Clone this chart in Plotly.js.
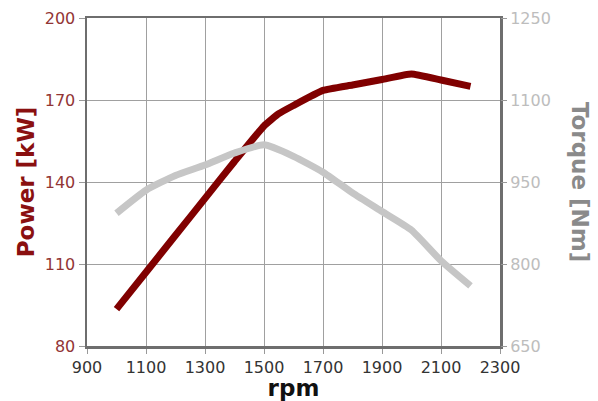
<!DOCTYPE html>
<html>
<head>
<meta charset="utf-8">
<script src="https://cdn.plot.ly/plotly-3.0.1.min.js"></script>
<style>
html,body{margin:0;padding:0;background:#fff;}
#chart{width:598px;height:401px;}
</style>
</head>
<body>
<div id="chart"></div>
<script>
// Data
const powerRpm = [1000, 1100, 1200, 1300, 1400, 1500, 1550, 1600, 1700, 1800, 1900, 2000, 2100, 2200];
const powerKw  = [93.5, 107, 120.5, 134, 147.5, 160.5, 165, 168, 173.5, 175.5, 177.5, 179.5, 177.3, 175];
const torqueRpm = [1000, 1100, 1200, 1300, 1400, 1500, 1600, 1700, 1800, 1900, 2000, 2100, 2200];
const torqueNm  = [893, 935, 962, 981, 1003, 1018, 997, 968, 930, 896, 862, 806, 760];
const xTicks = [900, 1100, 1300, 1500, 1700, 1900, 2100, 2300];
const powerTicks = [80, 110, 140, 170, 200];
const torqueTicks = [650, 800, 950, 1100, 1250];

const FONT = 'DejaVu Sans, Verdana, sans-serif';
const RED = '#800000';

const traces = [
  {x: powerRpm, y: powerKw, type: 'scatter', mode: 'lines', name: 'Power',
   line: {color: RED, width: 7, shape: 'spline', smoothing: 0.4}, yaxis: 'y'},
  {x: torqueRpm, y: torqueNm, type: 'scatter', mode: 'lines', name: 'Torque',
   line: {color: '#c6c6c6', width: 7, shape: 'spline', smoothing: 0.5}, yaxis: 'y2'}
];

const layout = {
  width: 598, height: 401,
  margin: {l: 87, r: 98, t: 18, b: 55},
  paper_bgcolor: '#fff', plot_bgcolor: '#fff',
  showlegend: false,
  font: {family: FONT},
  xaxis: {
    range: [900, 2300], tickvals: xTicks, ticktext: xTicks.map(String),
    showgrid: true, gridcolor: '#a0a0a0', gridwidth: 1,
    showline: true, linecolor: '#6e6e6e', linewidth: 2.5, mirror: true,
    ticks: 'outside', ticklen: 5, tickcolor: '#999',
    tickfont: {family: FONT, size: 16, color: '#333'},
    zeroline: false,
    title: {text: '<b>rpm</b>', font: {family: FONT, size: 23, color: '#111'}, standoff: 2}
  },
  yaxis: {
    range: [80, 200], tickvals: powerTicks, ticktext: powerTicks.map(String),
    showgrid: true, gridcolor: '#a0a0a0', gridwidth: 1,
    showline: true, linecolor: '#6e6e6e', linewidth: 2.5, mirror: true,
    ticks: 'outside', ticklen: 6, tickcolor: '#999',
    tickfont: {family: FONT, size: 16, color: '#923535'},
    zeroline: false,
    title: {text: '<b>Power [kW]</b>', font: {family: FONT, size: 23, color: '#8a1010'}, standoff: 4}
  },
  yaxis2: {
    range: [650, 1250], tickvals: torqueTicks, ticktext: torqueTicks.map(String),
    overlaying: 'y', side: 'right', showgrid: false,
    showline: false, ticks: 'outside', ticklen: 6, tickcolor: '#999',
    tickfont: {family: FONT, size: 16, color: '#bdbdbd'},
    zeroline: false
  },
  annotations: [
    {text: '<b>Torque [Nm]</b>', xref: 'paper', yref: 'paper', x: 1.194, y: 0.5,
     xanchor: 'center', yanchor: 'middle', textangle: 90, showarrow: false,
     font: {family: FONT, size: 23, color: '#8a8a8a'}}
  ]
};

Plotly.newPlot('chart', traces, layout, {displayModeBar: false, staticPlot: true});
</script>
</body>
</html>
